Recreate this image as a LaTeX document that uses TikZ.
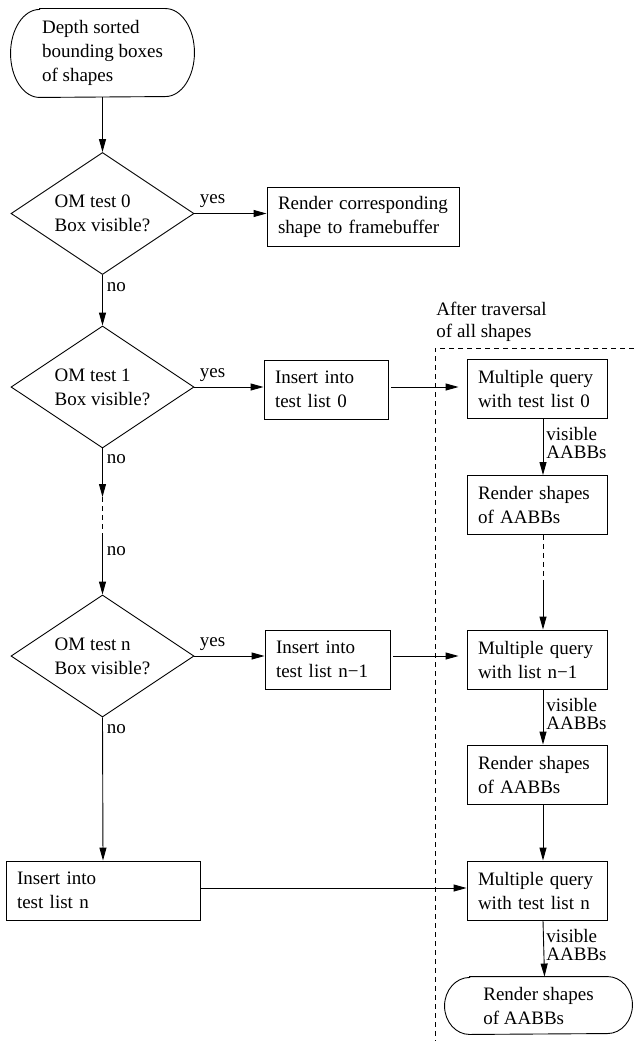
\documentclass[tikz,border=0pt]{standalone}
\usepackage{fontspec}
\setmainfont{Liberation Serif}
\usetikzlibrary{arrows.meta,shapes.geometric}
\newcommand\drawstadium[3]{%
  \draw ([xshift=#2]#1.north west) -- ([xshift=-#2]#1.north east)
    arc[start angle=90,end angle=-90,x radius=#2,y radius=#3]
    -- ([xshift=#2]#1.south west)
    arc[start angle=270,end angle=90,x radius=#2,y radius=#3] -- cycle;}
\begin{document}
\begin{tikzpicture}[x=1pt,y=-1pt,
  every node/.style={font=\fontsize{19}{24}\selectfont},
  line width=0.9pt,
  arr/.style={-{Triangle[length=13pt,width=7pt]}},
  box/.style={draw, rectangle, minimum height=59pt, inner xsep=11pt, inner ysep=0pt, align=left},
  dec/.style={draw, diamond, minimum width=183pt, minimum height=122pt, inner sep=0pt, aspect=1.5, align=left},
  term/.style={rectangle, inner sep=0pt, align=left},
  lbl/.style={inner sep=0pt, anchor=base west},
  vis/.style={inner sep=0pt, anchor=north west, align=left, font=\fontsize{19}{18}\selectfont},
  dsh/.style={dash pattern=on 5pt off 4pt}
]
\useasboundingbox (0,0) rectangle (634,1041);

% left column
\node[term, minimum width=183pt, minimum height=88pt] (T1) at (102.5,53) {Depth sorted\\bounding boxes\\of shapes};
\drawstadium{T1}{29pt}{44pt}
\node[dec] (D1) at (102.5,213.5) {OM test 0\\Box visible?};
\node[dec] (D2) at (102.5,387) {OM test 1\\Box visible?};
\node[dec] (D3) at (102.5,656) {OM test n\\Box visible?};
\node[box, text width=172pt] (In) at (103,890.5) {Insert into\\test list n};

% middle column
\node[box, text width=170pt] (R) at (363,216.5) {Render corresponding\\shape to framebuffer};
\node[box, text width=102pt] (I0) at (326,389.5) {Insert into\\test list 0};
\node[box, text width=103pt] (In1) at (327.5,659.5) {Insert into\\test list n\textminus 1};

% right column
\node[box, text width=118pt] (M0) at (537,389) {Multiple query\\with test list 0};
\node[box, text width=118pt] (RS1) at (537,505) {Render shapes\\of AABBs};
\node[box, text width=118pt] (Mn1) at (537,659.5) {Multiple query\\with list n−1};
\node[box, text width=118pt] (RS2) at (537,774.5) {Render shapes\\of AABBs};
\node[box, text width=118pt] (Mn) at (537,890.5) {Multiple query\\with test list n};
\node[term, minimum width=187pt, minimum height=57pt] (T2) at (538.5,1005.5) {Render shapes\\of AABBs};
\drawstadium{T2}{25pt}{28.5pt}

% traversal region
\node[inner sep=0pt, anchor=north west, align=left, font=\fontsize{19}{22}\selectfont] (after) at (436,302) {After traversal\\of all shapes};
\draw[dsh] (634,348) -- (435,348) -- (435,1041);

% helper coordinates
\coordinate (l1) at (102.5,497);
\coordinate (l2) at (102.5,536);
\coordinate (r1) at (543,580);

% connectors
\draw[arr] (T1.south) -- (D1.north);
\draw[arr] (D1.east) -- (D1.east -| R.west);
\draw[arr] (D1.south) -- (D2.north);
\draw[arr] (D2.east) -- (D2.east -| I0.west);
\draw[arr, shorten <=3pt, shorten >=8pt] (D2.east -| I0.east) -- (D2.east -| M0.west);
\draw[arr] (D2.south) -- (l1);
\draw[dsh] (l1) -- (l2);
\draw[arr] (l2) -- (D3.north);
\draw[arr] (D3.east) -- (D3.east -| In1.west);
\draw[arr, shorten <=3pt, shorten >=8pt] (D3.east -| In1.east) -- (D3.east -| Mn1.west);
\draw[arr] (D3.south) -- (In.north);
\draw[arr] ([yshift=2.5pt]In.east) -- ([yshift=2.5pt]In.east -| Mn.west);

\draw[arr] ([xshift=6pt]M0.south) -- ([xshift=6pt]RS1.north);
\draw[dsh] ([xshift=6pt]RS1.south) -- (r1);
\draw[arr] (r1) -- ([xshift=6pt]Mn1.north);
\draw[arr] ([xshift=6pt]Mn1.south) -- ([xshift=6pt]RS2.north);
\draw[arr] ([xshift=6pt]RS2.south) -- ([xshift=6pt]Mn.north);
\draw[arr] ([xshift=6pt]Mn.south) -- ([xshift=6pt]T2.north);

% labels
\node[lbl] (y1) at ([xshift=5pt,yshift=10pt]D1.east) {yes};
\node[lbl] (y2) at ([xshift=5pt,yshift=10pt]D2.east) {yes};
\node[lbl] (y3) at ([xshift=5pt,yshift=10pt]D3.east) {yes};
\node[lbl] (n1) at ([xshift=4pt,yshift=-17pt]D1.south) {no};
\node[lbl] (n2) at ([xshift=4pt,yshift=-15pt]D2.south) {no};
\node[lbl] (n3) at ([xshift=4pt,yshift=-19pt]l2) {no};
\node[lbl] (n4) at ([xshift=4pt,yshift=-16pt]D3.south) {no};
\node[vis] (v1) at ([xshift=9pt,yshift=-8pt]M0.south) {visible\\AABBs};
\node[vis] (v2) at ([xshift=9pt,yshift=-8pt]Mn1.south) {visible\\AABBs};
\node[vis] (v3) at ([xshift=9pt,yshift=-8pt]Mn.south) {visible\\AABBs};
\end{tikzpicture}
\end{document}
